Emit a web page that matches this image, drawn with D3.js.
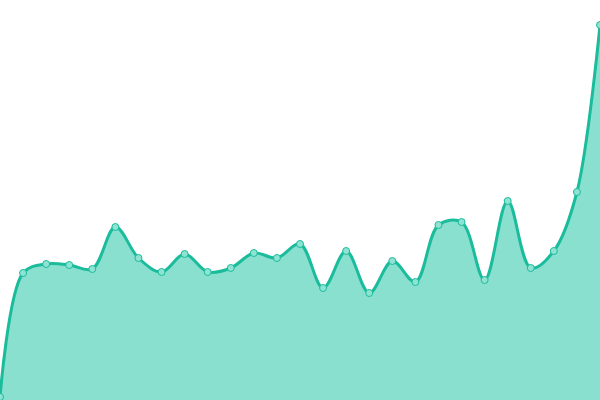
<!DOCTYPE html>
<html>
<head>
<meta charset="utf-8">
<script src="https://cdn.jsdelivr.net/npm/d3@7"></script>
<style>
  body { margin: 0; background: #fff; }
  svg { display: block; }
</style>
</head>
<body>
<div id="chart"></div>
<script>
// values, one per point from left to right
const labels = d3.range(27).map(i => "P" + (i + 1));
const values = [3, 127, 136, 135, 131, 173, 142, 128, 146, 128, 132, 147, 142, 156, 112,
                149, 107, 139, 118, 175, 178, 120, 199, 132, 149, 208, 375];

const width = 600, height = 400;

const svg = d3.select("#chart").append("svg")
    .attr("width", width)
    .attr("height", height);

const x = d3.scalePoint()
    .domain(labels)
    .range([0, width]);

const y = d3.scaleLinear()
    .domain([0, 400])
    .range([height, 0]);

const data = labels.map((l, i) => ({label: l, value: values[i]}));

// filled area under the curve
const area = d3.area()
    .x(d => x(d.label))
    .y0(height)
    .y1(d => y(d.value))
    .curve(d3.curveCatmullRom);

svg.append("path")
    .datum(data)
    .attr("fill", "#8ae0cf")
    .attr("d", area);

const line = d3.line()
    .x(d => x(d.label))
    .y(d => y(d.value))
    .curve(d3.curveCatmullRom);

svg.append("path")
    .datum(data)
    .attr("fill", "none")
    .attr("stroke", "#1abc9c")
    .attr("stroke-width", 3)
    .attr("d", line);

// point markers
svg.append("g").selectAll("circle")
    .data(data)
    .join("circle")
    .attr("cx", d => x(d.label))
    .attr("cy", d => y(d.value))
    .attr("r", 3.5)
    .attr("fill", "#8fe3d2")
    .attr("stroke", "#1abc9c")
    .attr("stroke-width", 1);
</script>
</body>
</html>
